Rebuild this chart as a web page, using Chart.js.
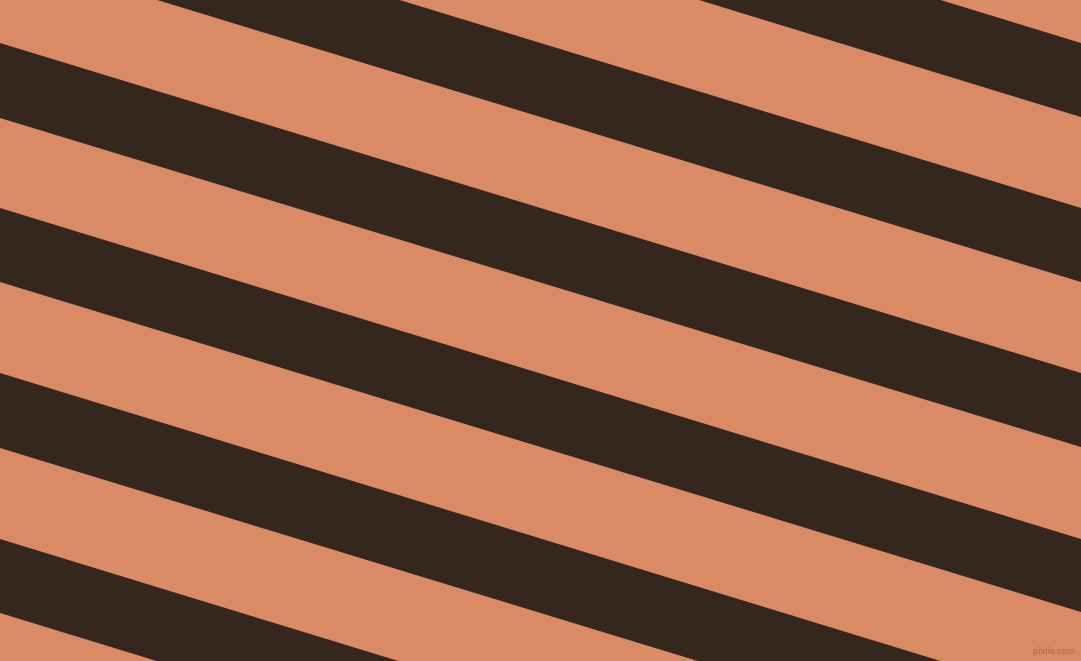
<!DOCTYPE html>
<html>
<head>
<meta charset="utf-8">
<script src="https://cdn.jsdelivr.net/npm/chart.js@4"></script>
<style>
  html, body { margin: 0; padding: 0; overflow: hidden; }
  #wrap { position: relative; width: 1081px; height: 661px; background: #db8a66; }
  #mark { position: absolute; left: 1033px; top: 646px; font: bold 8.5px "Liberation Sans", sans-serif; line-height: 10px; color: #b66f51; }
</style>
</head>
<body>
<div id="wrap">
  <canvas id="stripes"></canvas>
  <div id="mark">pixlis.com</div>
</div>
<script>
// each dark band: y where its top / bottom edge meets the left (x=0) and right (x=1081) side
const bandTopLeft = [-288, -122, 43, 208, 373, 539];
const bandBottomLeft = [-214, -48, 118, 282, 448, 613];
const bandTopRight = [43, 208, 373, 539, 704, 870];
const bandBottomRight = [117, 282, 447, 612, 778, 944];

const xMax = 1081;
const yMax = 661;

const datasets = [];
bandTopLeft.forEach((top, i) => {
    datasets.push({
        data: [{ x: 0, y: top }, { x: xMax, y: bandTopRight[i] }],
        borderWidth: 0,
        pointRadius: 0,
        fill: false
    });
    datasets.push({
        data: [{ x: 0, y: bandBottomLeft[i] }, { x: xMax, y: bandBottomRight[i] }],
        borderWidth: 0,
        pointRadius: 0,
        backgroundColor: '#33271e',
        fill: '-1'
    });
});

const ctx = document.getElementById('stripes').getContext('2d');
const stripes = new Chart(ctx, {
    type: 'line',
    data: { datasets: datasets },
    options: {
        responsive: true,
        maintainAspectRatio: false,
        animation: false,
        layout: { padding: 0 },
        plugins: {
            legend: { display: false },
            tooltip: { enabled: false }
        },
        scales: {
            x: { type: 'linear', min: 0, max: xMax, display: false },
            y: { min: 0, max: yMax, reverse: true, display: false }
        }
    }
});
</script>
</body>
</html>
